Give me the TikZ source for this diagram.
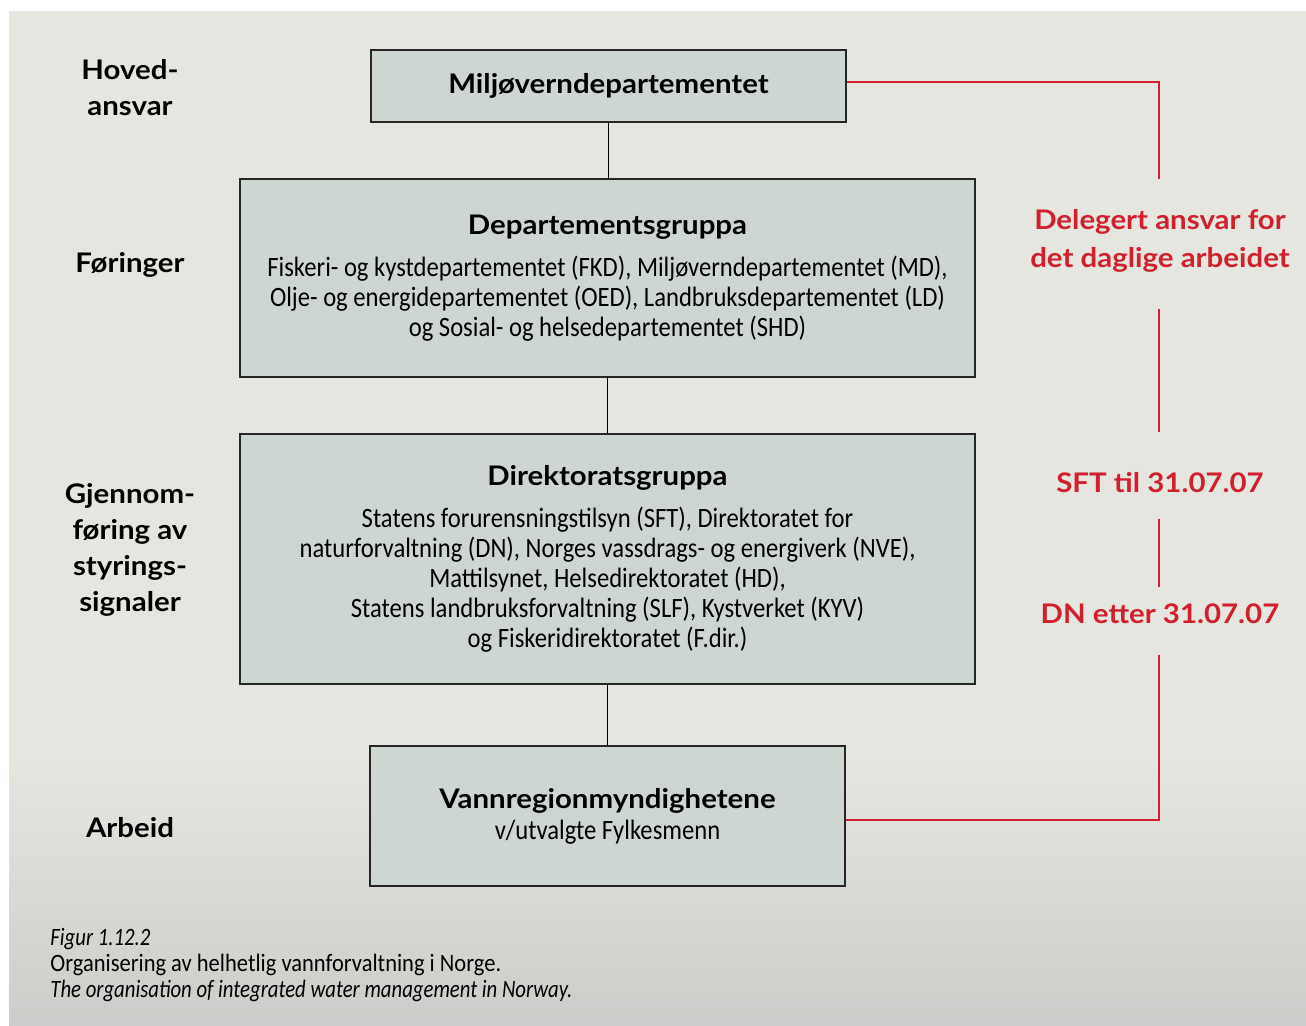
\documentclass[tikz,border=0pt]{standalone}
\usepackage{fontspec}
\setmainfont{Carlito}
\newfontfamily\labelfont[FakeStretch=1.09]{Lato}
\newfontfamily\bodyfont[FakeStretch=0.88]{Carlito}
\newfontfamily\captionfont[FakeStretch=0.9,ItalicFeatures={FakeStretch=0.83}]{Carlito}
\usetikzlibrary{positioning}
\definecolor{bggray}{HTML}{E6E6E1}
\definecolor{shadegray}{HTML}{CCCCCA}
\definecolor{boxfill}{HTML}{CDD6D1}
\definecolor{delred}{HTML}{D0202E}
\newcommand{\boxtitle}[1]{{\labelfont\bfseries\fontsize{13.5}{15}\selectfont #1}}

\begin{document}
\begin{tikzpicture}[x=0.5pt,y=-0.5pt,
  box/.style={draw=black!85,line width=0.7pt,fill=boxfill,align=center,inner sep=0pt,
    font=\bodyfont\fontsize{14}{15}\selectfont},
  side/.style={font=\labelfont\bfseries\fontsize{13.5}{18}\selectfont,align=center},
  redtext/.style={text=delred,font=\labelfont\bfseries\fontsize{13.5}{19}\selectfont,align=center},
  redline/.style={draw=delred,line width=0.9pt},
  link/.style={draw=black,line width=0.9pt}]
  \useasboundingbox (0,0) rectangle (1306,1025);
  \fill[white] (0,0) rectangle (1306,1025);
  \fill[bggray] (9,11) rectangle (1306,760);
  \shade[top color=bggray,bottom color=shadegray] (9,759) rectangle (1306,1025);

  % boxes
  \node[box,minimum width=237.5pt,minimum height=36pt] (miljo) at (608.5,86)
    {\boxtitle{Miljøverndepartementet}};
  \node[box,minimum width=367.5pt,minimum height=99pt] (depgr) at (607.5,278)
    {\boxtitle{Departementsgruppa}\\[6pt]
     Fiskeri- og kystdepartementet (FKD), Miljøverndepartementet (MD),\\
     Olje- og energidepartementet (OED), Landbruksdepartementet (LD)\\
     og Sosial- og helsedepartementet (SHD)};
  \node[box,minimum width=367.5pt,minimum height=125pt] (dirgr) at (607.5,559)
    {\boxtitle{Direktoratsgruppa}\\[6pt]
     Statens forurensningstilsyn (SFT), Direktoratet for\\
     naturforvaltning (DN), Norges vassdrags- og energiverk (NVE),\\
     Mattilsynet, Helsedirektoratet (HD),\\
     Statens landbruksforvaltning (SLF), Kystverket (KYV)\\
     og Fiskeridirektoratet (F.dir.)};
  \node[box,minimum width=237.5pt,minimum height=70pt] (vann) at (607.5,816)
    {\boxtitle{Vannregionmyndighetene}\\[0.5pt]
     v/utvalgte Fylkesmenn};

  % levels
  \node[side] (hoved) at (130,88) {Hoved-\\ansvar};
  \node[side] (foring) at (130,265) {Føringer};
  \node[side] (gjennom) at (130,550) {Gjennom-\\føring av\\styrings-\\signaler};
  \node[side] (arbeid) at (130,828) {Arbeid};

  % delegation
  \node[redtext] (deleg) at (1160,241) {Delegert ansvar for\\det daglige arbeidet};
  \node[redtext] (sft) at (1160,483) {SFT til 31.07.07};
  \node[redtext] (dn) at (1160,614) {DN etter 31.07.07};
  \coordinate (r1) at (1159,179);
  \coordinate (r2) at (1159,309);
  \coordinate (r3) at (1159,432);
  \coordinate (r4) at (1159,519);
  \coordinate (r5) at (1159,587);
  \coordinate (r6) at (1159,655);

  \draw[link] (miljo.south) -- (miljo.south |- depgr.north);
  \draw[link] (depgr.south) -- (dirgr.north);
  \draw[link] (dirgr.south) -- (vann.north);

  \draw[redline] ([yshift=2pt]miljo.east) -| (r1);
  \draw[redline] (r2) -- (r3);
  \draw[redline] (r4) -- (r5);
  \draw[redline] (r6) |- ([yshift=-2pt]vann.east);

  % caption
  \node[anchor=base west,align=left,inner sep=0pt,
    font=\captionfont\fontsize{12.5}{13}\selectfont] (caption) at (50,997)
    {{\itshape Figur 1.12.2}\\
     Organisering av helhetlig vannforvaltning i Norge.\\
     {\itshape The organisation of integrated water management in Norway.}};
\end{tikzpicture}
\end{document}
